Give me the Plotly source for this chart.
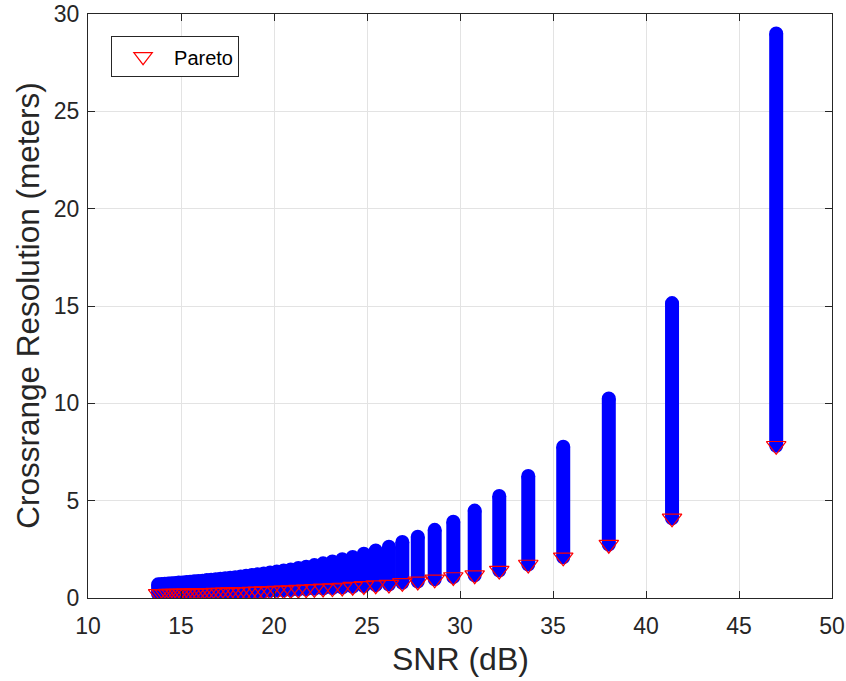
import plotly.graph_objects as go

# SNR of each design point group (dB)
snr_db = [47.00, 41.40, 38.00, 35.55, 33.67, 32.11, 30.79, 29.64, 28.64, 27.73,
          26.90, 26.18, 25.47, 24.83, 24.23, 23.67, 23.14, 22.64, 22.17, 21.73,
          21.31, 20.90, 20.52, 20.15, 19.79, 19.45, 19.12, 18.81, 18.50, 18.21,
          17.92, 17.65, 17.38, 17.12, 16.87, 16.62, 16.39, 16.15, 15.93, 15.71,
          15.49, 15.29, 15.08, 14.88, 14.69, 14.49, 14.31, 14.13, 13.95, 13.77]

# Largest crossrange resolution reached at each SNR (m)
cr_max = [29.00, 15.15, 10.25, 7.77, 6.27, 5.24, 4.49, 3.92, 3.50, 3.15,
          2.88, 2.63, 2.44, 2.27, 2.11, 1.99, 1.88, 1.78, 1.69, 1.61,
          1.54, 1.47, 1.41, 1.36, 1.31, 1.26, 1.22, 1.18, 1.14, 1.11,
          1.07, 1.04, 1.02, 0.99, 0.96, 0.94, 0.92, 0.89, 0.87, 0.86,
          0.84, 0.82, 0.80, 0.79, 0.77, 0.76, 0.74, 0.73, 0.72, 0.70]

# Pareto-optimal (smallest) crossrange resolution at each SNR (m)
cr_pareto = [7.82, 4.09, 2.74, 2.09, 1.72, 1.41, 1.17, 1.08, 0.96, 0.85,
             0.78, 0.69, 0.66, 0.62, 0.58, 0.54, 0.51, 0.49, 0.47, 0.45,
             0.43, 0.41, 0.39, 0.38, 0.37, 0.35, 0.34, 0.33, 0.32, 0.31,
             0.30, 0.30, 0.29, 0.28, 0.28, 0.27, 0.26, 0.26, 0.25, 0.25,
             0.24, 0.24, 0.23, 0.23, 0.23, 0.22, 0.22, 0.21, 0.21, 0.21]

x_ticks = [10, 15, 20, 25, 30, 35, 40, 45, 50]
y_ticks = [0, 5, 10, 15, 20, 25, 30]

BLUE = "#0000ff"
RED = "#ff0000"
INK = "#262626"

# Each SNR group spans a vertical band of achievable resolutions
col_x, col_y = [], []
for s, lo, hi in zip(snr_db, cr_pareto, cr_max):
    col_x += [s, s, None]
    col_y += [lo, hi, None]

fig = go.Figure()
fig.add_trace(go.Scatter(
    x=col_x, y=col_y, mode="lines+markers",
    line=dict(color=BLUE, width=14),
    marker=dict(symbol="circle", size=12, color=BLUE, line=dict(color=BLUE, width=2)),
    showlegend=False, hoverinfo="skip",
))
fig.add_trace(go.Scatter(
    x=snr_db, y=cr_pareto, mode="markers", name="Pareto",
    marker=dict(symbol="triangle-down-open", size=17, color=RED, line=dict(width=1.2)),
))

axis_common = dict(
    showline=True, linecolor=INK, linewidth=1, mirror="ticks",
    ticks="inside", ticklen=7, tickcolor=INK, tickwidth=1,
    showgrid=True, gridcolor="#e3e3e3", gridwidth=1, zeroline=False,
    tickfont=dict(size=23, color=INK, family="Liberation Sans"),
)
fig.update_xaxes(range=[10, 50], tickvals=x_ticks, ticklabelstandoff=7, **axis_common)
fig.update_yaxes(range=[0, 30], tickvals=y_ticks, ticklabelstandoff=3, **axis_common)

fig.update_layout(
    width=846, height=681,
    margin=dict(l=88, r=14, t=14, b=83, autoexpand=False),
    paper_bgcolor="white", plot_bgcolor="white",
    font=dict(family="Liberation Sans", color=INK),
    legend=dict(
        x=0.031, y=0.962, xanchor="left", yanchor="top",
        bgcolor="white", bordercolor=INK, borderwidth=1,
        font=dict(size=20, color="#000000"), itemwidth=52,
        tracegroupgap=0,
    ),
    annotations=[
        dict(text="SNR (dB)", xref="paper", yref="paper", x=0.5, y=-0.105,
             xanchor="center", yanchor="middle", showarrow=False,
             font=dict(size=32, color=INK)),
        dict(text="Crossrange Resolution (meters)", xref="paper", yref="paper",
             x=-0.081, y=0.5, xanchor="center", yanchor="middle", textangle=-90,
             showarrow=False, font=dict(size=31.5, color=INK)),
    ],
)

fig.write_html("out.html")
